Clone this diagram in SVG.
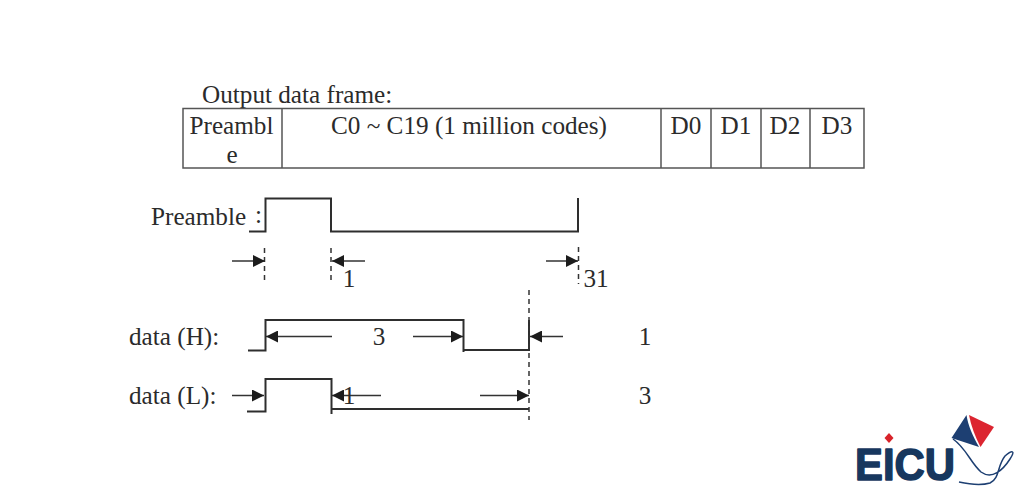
<svg xmlns="http://www.w3.org/2000/svg" width="1024" height="500" viewBox="0 0 1024 500">
<style>
text{font-family:"Liberation Serif","Times New Roman",serif;font-size:25.200px;fill:#2b2b2b}
.m{text-anchor:middle}
.cell{fill:none;stroke:#555;stroke-width:1.500}
.w{fill:none;stroke:#2e2e2e;stroke-width:2}
.a{fill:none;stroke:#333;stroke-width:1.500;marker-end:url(#ah)}
.d{fill:none;stroke:#333;stroke-width:1.500;stroke-dasharray:5 4}
</style>
<defs><marker id="ah" markerUnits="userSpaceOnUse" markerWidth="14" markerHeight="12" refX="12" refY="6" orient="auto"><path d="M0 0L12 6L0 12Z" fill="#1c1c1c"/></marker></defs>
<rect width="1024" height="500" fill="#fff"/>
<g id="frame-title"><text x="202" y="102.500">Output data frame:</text></g>
<g id="frame-table">
<rect class="cell" x="183" y="108.500" width="681" height="59.500"/>
<path class="cell" d="M282 108.500V168M661 108.500V168M711 108.500V168M761 108.500V168M810 108.500V168"/>
<text class="m" x="231.500" y="133.500">Preambl</text><text class="m" x="232" y="163">e</text>
<text class="m" x="469" y="133.500">C0 ~ C19 (1 million codes)</text>
<text class="m" x="686" y="133.500">D0</text><text class="m" x="736" y="133.500">D1</text><text class="m" x="785" y="133.500">D2</text><text class="m" x="837" y="133.500">D3</text>
</g>
<g id="preamble-label"><text x="151" y="224.500">Preamble</text><text x="255" y="222.500">:</text></g>
<g id="preamble-wave"><path class="w" d="M249 231.500H265.500V198.500H331V231.500H578V198"/></g>
<g id="data-h-label"><text x="129" y="344.500">data (H):</text></g>
<g id="data-h-wave"><path class="w" d="M248 350.500H265.500V320H463.500V352M463.500 350H529V320"/></g>
<g id="data-l-label"><text x="129" y="403.500">data (L):</text></g>
<g id="data-l-wave"><path class="w" d="M247 411.500H265.500V379H331.500V414M331.500 409H529"/></g>
<g id="connectors">
<path class="d" d="M264.500 248V282M331 248V284M578.500 247V284M529 290V420"/>
<path class="a" d="M232 261H265"/><path class="a" d="M365 261H332"/><path class="a" d="M546 261H578"/>
<path class="a" d="M332 336.500H266"/><path class="a" d="M413 336.500H463"/><path class="a" d="M563 336.500H530"/>
<path class="a" d="M232 395.500H264"/><path class="a" d="M381 395.500H332"/><path class="a" d="M480 395.500H529"/>
</g>
<g id="measures">
<text class="m" x="349" y="286.500">1</text><text x="583.500" y="286.500">31</text>
<text class="m" x="379" y="344.500">3</text><text class="m" x="645" y="344.500">1</text>
<text class="m" x="349" y="403.500">1</text><text class="m" x="645" y="403.500">3</text>
</g>
<g id="logo">
<path d="M889 433L893.500 438L889 443L884.500 438Z" fill="#d8232a"/>
<text x="855" y="479.500" textLength="100" lengthAdjust="spacingAndGlyphs" style="font-family:'Liberation Sans',sans-serif;font-weight:700;font-size:45px;fill:#17375e;stroke:#17375e;stroke-width:1.500;stroke-linejoin:round">EICU</text>
<path d="M966.500 415L951.500 438L979 447C973 436 968 426 966.500 415Z" fill="#1d3f72"/>
<path d="M969 415L994 427L980.500 447C975 436 971 426 969 415Z" fill="#dc2530"/>
<path d="M953 439C966 448 970 462 981 472C992 480 1003 470 1010 459C1016 450 1012 450 1005 456C997 466 1000 478 990 483C980 486 968 484 959 482" fill="none" stroke="#1d3f72" stroke-width="1.500"/>
</g>
</svg>
